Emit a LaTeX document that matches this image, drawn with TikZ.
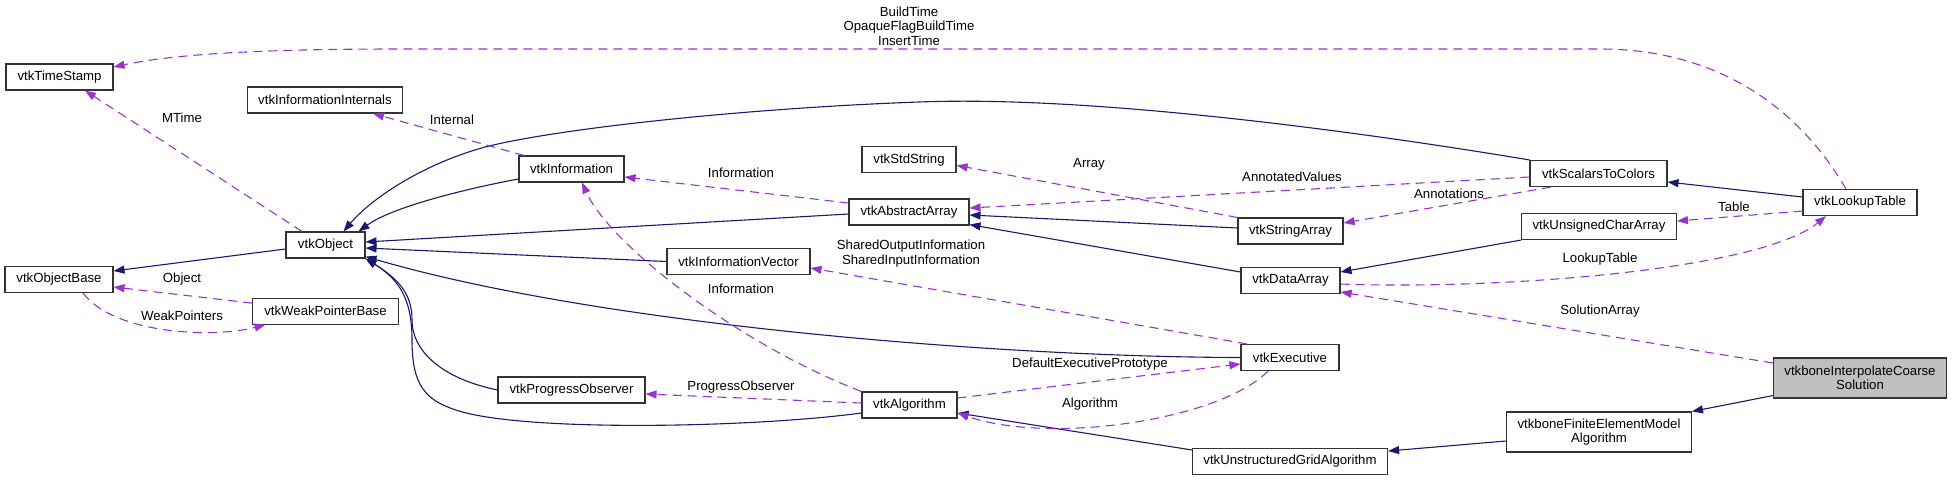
\documentclass[tikz,border=0pt]{standalone}
\usepackage{fontspec}
\setmainfont{Liberation Sans}
\usetikzlibrary{arrows.meta}
\usetikzlibrary{positioning}
\definecolor{midnight}{HTML}{191970}
\definecolor{orchid}{HTML}{9A32CD}
\definecolor{shade}{HTML}{BFBFBF}

\begin{document}
\begin{tikzpicture}[x=1pt, y=-1pt,
    cls/.style={rectangle, draw=black!80, line width=1.1pt, fill=white, minimum height=26pt, inner xsep=11pt, inner ysep=6pt, align=center, font=\fontsize{13.2}{14}\selectfont},
    inherit/.style={draw=midnight, line width=1.1pt, -{Triangle[length=11pt,width=8pt]}},
    uses/.style={draw=orchid, line width=1.1pt, dash pattern=on 9pt off 6pt, -{Triangle[length=11pt,width=8pt]}},
    lbl/.style={font=\fontsize{13.2}{14.5}\selectfont, align=center, inner sep=0pt}]
    \useasboundingbox (0,0) rectangle (1953,480);

    \node [cls, minimum width=107pt] (stamp) at (59.5,77) {vtkTimeStamp};
    \node [cls, minimum width=154pt] (internals) at (325,100) {vtkInformationInternals};
    \node [cls, minimum width=105pt] (info) at (571.5,169) {vtkInformation};
    \node [cls, minimum width=79pt] (object) at (325.5,245) {vtkObject};
    \node [cls, minimum width=108pt] (base) at (59,279.5) {vtkObjectBase};
    \node [cls, minimum width=146pt, below=39pt of object] (weak) {vtkWeakPointerBase};
    \node [cls, minimum width=147pt] (progress) at (571.5,390) {vtkProgressObserver};
    \node [cls, minimum width=120pt] (abstract) at (909,212) {vtkAbstractArray};
    \node [cls, minimum width=94pt, above=25pt of abstract] (stdstr) {vtkStdString};
    \node [cls, minimum width=143pt] (infovec) at (738.5,261.5) {vtkInformationVector};
    \node [cls, minimum width=95pt] (algo) at (909.5,405) {vtkAlgorithm};
    \node [cls, minimum width=98pt] (exec) at (1290,357.5) {vtkExecutive};
    \node [cls, minimum width=105pt] (strarr) at (1290.5,231) {vtkStringArray};
    \node [cls, minimum width=99pt] (dataarr) at (1290.5,280.5) {vtkDataArray};
    \node [cls, minimum width=194pt] (ugalgo) at (1290,461.5) {vtkUnstructuredGridAlgorithm};
    \node [cls, minimum width=137pt] (s2c) at (1598.5,173.5) {vtkScalarsToColors};
    \node [cls, minimum width=114pt] (lut) at (1860,202.5) {vtkLookupTable};
    \node [cls, minimum width=154pt] (ucarr) at (1599,226.5) {vtkUnsignedCharArray};
    \node [cls, minimum width=170pt, minimum height=40pt, fill=shade] (coarse) at (1860,378) {vtkboneInterpolateCoarse\\Solution};
    \node [cls, minimum width=182pt, minimum height=40pt] (fema) at (1599,432) {vtkboneFiniteElementModel\\Algorithm};

    % inheritance
    \draw [inherit] ([yshift=-4pt]object.west) -- ([yshift=8.5pt]base.east);
    \draw [inherit] ([yshift=-10pt]info.west) .. controls (480,186) and (395,205) .. ([xshift=33pt]object.north);
    \draw [inherit] (s2c.north west) .. controls (1380,135) and (1100,95) .. (919,102) .. controls (750,108) and (560,128) .. (485,147) .. controls (420,165) and (370,200) .. ([xshift=18pt]object.north);
    \draw [inherit] ([yshift=-2pt]abstract.west) -- ([yshift=3pt]object.east);
    \draw [inherit] (infovec.west) -- ([yshift=-3pt]object.east);
    \draw [inherit] (exec.west) .. controls (1000,357) and (600,325) .. ([yshift=2pt]object.south east);
    \draw [inherit] (progress.west) .. controls (440,378) and (412,350) .. (412,320) .. controls (412,295) and (400,280) .. (object.south east);
    \draw [inherit] ([yshift=-8pt]algo.west) .. controls (750,428) and (520,432) .. (456,410) .. controls (425,400) and (412,385) .. (412,340) .. controls (412,300) and (400,280) .. (object.south east);
    \draw [inherit] ([yshift=3pt]strarr.west) -- ([yshift=-3pt]abstract.east);
    \draw [inherit] ([yshift=8.5pt]dataarr.west) -- ([yshift=1pt]abstract.south east);
    \draw [inherit] (ucarr.south west) -- ([yshift=8.5pt]dataarr.east);
    \draw [inherit] ([yshift=5.5pt]lut.west) -- ([yshift=-8.5pt]s2c.east);
    \draw [inherit] ([yshift=-2pt]ugalgo.north west) -- ([yshift=-8pt]algo.east);
    \draw [inherit] ([yshift=-9pt]fema.west) -- ([yshift=10.5pt]ugalgo.east);
    \draw [inherit] ([yshift=3pt]coarse.south west) -- (fema.north east);

    % usage
    \draw [uses] ([xshift=-23.5pt]object.north) -- ([xshift=25.5pt]stamp.south) node [lbl] at (182,118) {MTime};
    \draw [uses] ([xshift=-14pt]lut.north) .. controls (1800,110) and (1720,49) .. (1600,49) -- (400,49) .. controls (250,49) and (170,55) .. ([yshift=10pt]stamp.east) node [lbl] at (909,26) {BuildTime\\OpaqueFlagBuildTime\\InsertTime};
    \draw [uses] ([xshift=-47.5pt]info.north) -- ([xshift=48pt]internals.south) node [lbl] at (452,120) {Internal};
    \draw [uses] ([yshift=9pt]abstract.west) -- ([yshift=-8pt]info.east) node [lbl] at (741,173) {Information};
    \draw [uses] (strarr.north west) -- ([yshift=-5.5pt]stdstr.east) node [lbl] at (1089,164) {Array};
    \draw [uses] ([yshift=-3.5pt]s2c.west) -- ([yshift=4pt]abstract.east) node [lbl] at (1292,177) {AnnotatedValues};
    \draw [uses] ([xshift=-47.5pt]s2c.south) -- ([yshift=8pt]strarr.east) node [lbl] at (1449,194) {Annotations};
    \draw [uses] ([yshift=-8.5pt]lut.west) -- ([yshift=5.5pt]ucarr.east) node [lbl] at (1734,207) {Table};
    \draw [uses] ([yshift=8pt]weak.west) -- ([yshift=-7.5pt]base.east) node [lbl] at (182,279) {Object};
    \draw [uses] ([xshift=24pt]base.south) .. controls (115,335) and (215,338) .. ([xshift=-60pt]weak.south) node [lbl] at (182,316) {WeakPointers};
    \draw [uses] ([xshift=-43pt]exec.north) -- ([yshift=-6.5pt]infovec.east) node [lbl] at (911,253.5) {SharedOutputInformation\\SharedInputInformation};
    \draw [uses] (algo.north west) .. controls (740,345) and (610,245) .. ([xshift=10.5pt]info.south) node [lbl] at (741,289) {Information};
    \draw [uses] ([yshift=2pt]algo.west) -- ([yshift=-4pt]progress.east) node [lbl] at (741,387) {ProgressObserver};
    \draw [uses] ([yshift=7pt]algo.east) -- ([yshift=-6.5pt]exec.west) node [lbl] at (1090,364) {DefaultExecutivePrototype};
    \draw [uses] ([xshift=-22pt]exec.south) .. controls (1220,420) and (1050,445) .. ([yshift=-8pt]algo.east) node [lbl] at (1090,404) {Algorithm};
    \draw [uses] ([yshift=-3.5pt]dataarr.east) .. controls (1500,290) and (1760,270) .. ([xshift=-34pt]lut.south) node [lbl] at (1600,259) {LookupTable};
    \draw [uses] ([yshift=15pt]coarse.west) -- ([yshift=-11.5pt]dataarr.east) node [lbl] at (1600,311) {SolutionArray};
\end{tikzpicture}
\end{document}
